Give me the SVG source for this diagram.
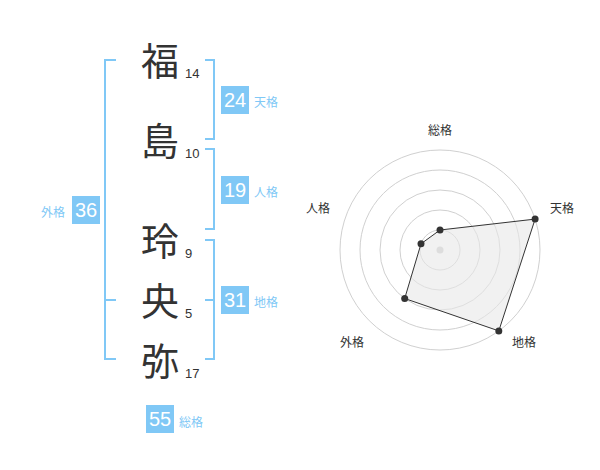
<svg xmlns="http://www.w3.org/2000/svg" width="600" height="470" viewBox="0 0 600 470">
<style>
.k{font-family:"Noto Sans CJK JP","Noto Sans CJK SC",sans-serif;font-size:38px;fill:#333;text-anchor:middle}
.n{font-family:"Liberation Sans",Arial,sans-serif;font-size:13px;fill:#333}
.br{fill:none;stroke:#80c8f6;stroke-width:2}
.box{fill:#80c8f6}
.bt{font-family:"Liberation Sans",Arial,sans-serif;font-size:20px;fill:#fff;text-anchor:middle}
.lb{font-family:"Noto Sans CJK JP","Noto Sans CJK SC",sans-serif;font-size:12px;fill:#80c8f6}
.ring{fill:none;stroke:#d0d0d0;stroke-width:1}
.ax{font-family:"Noto Sans CJK JP","Noto Sans CJK SC",sans-serif;font-size:12px;fill:#333;text-anchor:middle}
.pt{fill:#333}
</style>
<rect width="600" height="470" fill="#fff"/>
<g id="chars">
<g id="c1"><text class="k" x="160" y="75">福</text><text class="n" x="185" y="78">14</text></g>
<g id="c2"><text class="k" x="160" y="155">島</text><text class="n" x="185" y="158">10</text></g>
<g id="c3"><text class="k" x="160" y="255">玲</text><text class="n" x="185" y="258">9</text></g>
<g id="c4"><text class="k" x="160" y="315">央</text><text class="n" x="185" y="318">5</text></g>
<g id="c5"><text class="k" x="160" y="375">弥</text><text class="n" x="185" y="378">17</text></g>
</g>
<g id="connectors">
<path class="br" d="M116,60 H105 V359 H116 M105,300 H116"/>
<path class="br" d="M205,60 H214 V139 H205"/>
<path class="br" d="M205,149 H214 V229 H205"/>
<path class="br" d="M205,240 H214 V359 H205 M214,300 H205"/>
</g>
<g id="tenkaku"><rect class="box" x="221" y="86" width="28" height="28"/><text class="bt" x="235" y="107">24</text><text class="lb" x="254" y="107">天格</text></g>
<g id="jinkaku"><rect class="box" x="221" y="176" width="28" height="28"/><text class="bt" x="235" y="197">19</text><text class="lb" x="254" y="197">人格</text></g>
<g id="chikaku"><rect class="box" x="221" y="286" width="28" height="28"/><text class="bt" x="235" y="307">31</text><text class="lb" x="254" y="307">地格</text></g>
<g id="gaikaku"><rect class="box" x="72" y="196" width="28" height="28"/><text class="bt" x="86" y="217">36</text><text class="lb" x="41" y="217">外格</text></g>
<g id="soukaku"><rect class="box" x="146" y="405" width="28" height="28"/><text class="bt" x="160" y="426">55</text><text class="lb" x="179" y="427">総格</text></g>
<g id="radar">
<circle class="ring" cx="440" cy="250" r="20"/>
<circle class="ring" cx="440" cy="250" r="40"/>
<circle class="ring" cx="440" cy="250" r="60"/>
<circle class="ring" cx="440" cy="250" r="80"/>
<circle class="ring" cx="440" cy="250" r="100"/>
<circle cx="440" cy="250" r="3.5" fill="#ccc"/>
<polygon points="440,230 535.1,219.1 498.8,330.9 404.7,298.5 421,243.8" fill="#e8e8e8" fill-opacity="0.6" stroke="#333" stroke-width="1"/>
<circle class="pt" cx="440" cy="230" r="3.5"/>
<circle class="pt" cx="535.1" cy="219.1" r="3.5"/>
<circle class="pt" cx="498.8" cy="330.9" r="3.5"/>
<circle class="pt" cx="404.7" cy="298.5" r="3.5"/>
<circle class="pt" cx="421" cy="243.8" r="3.5"/>
<text class="ax" x="440" y="135">総格</text>
<text class="ax" x="562" y="213">天格</text>
<text class="ax" x="318" y="213">人格</text>
<text class="ax" x="352" y="347">外格</text>
<text class="ax" x="524" y="347">地格</text>
</g>
</svg>
